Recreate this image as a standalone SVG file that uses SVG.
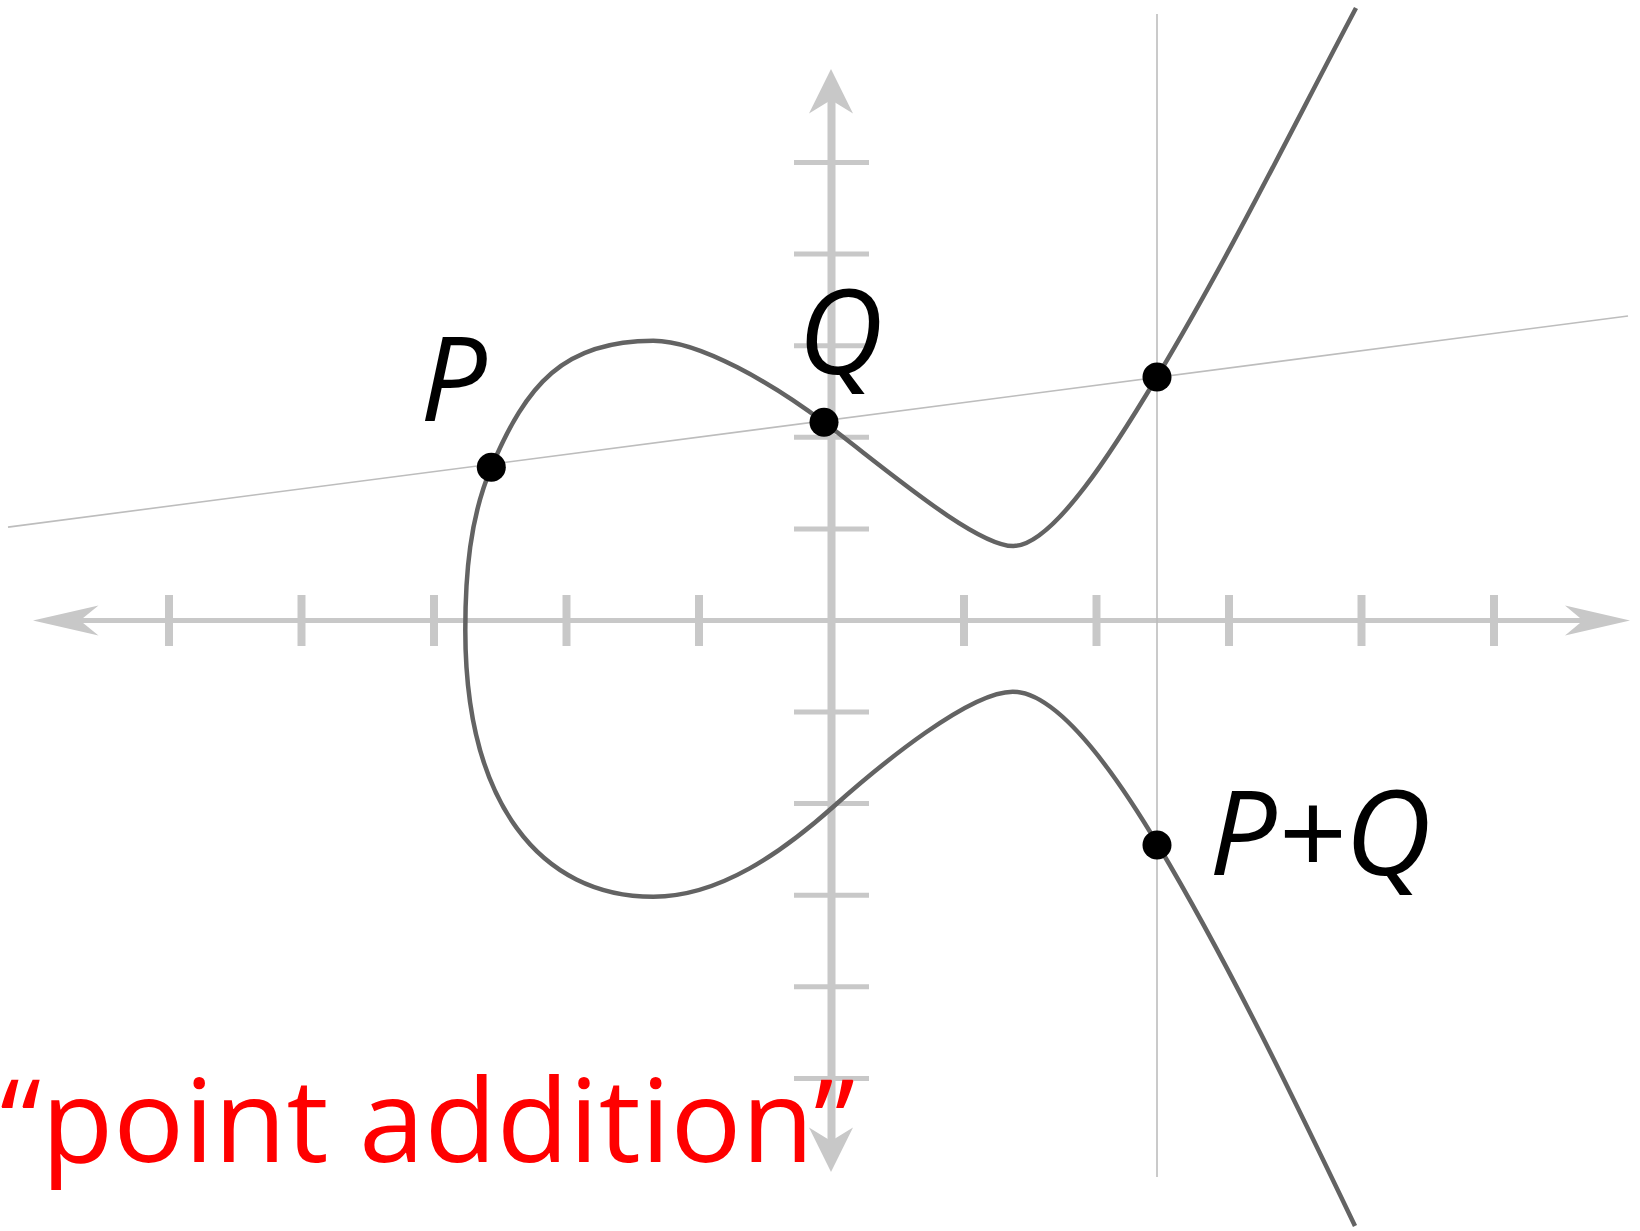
<svg xmlns="http://www.w3.org/2000/svg" width="1640" height="1231" viewBox="0 0 1640 1231">
<style>
.ax{stroke:#c8c8c8;fill:none}
.axh{stroke-width:5}
.axv{stroke-width:8}
.arr{fill:#c8c8c8;stroke:none}
.thin{stroke:#bdbdbd;stroke-width:1.6;fill:none}
.curve{stroke:#636363;stroke-width:4.5;fill:none}
.dot{fill:#000}
.lbl{font-family:"Open Sans","Noto Sans","Liberation Sans",sans-serif;font-style:italic;font-size:118px;fill:#000}
.red{font-family:"Open Sans","Noto Sans","Liberation Sans",sans-serif;font-size:116px;fill:#ff0000}
</style>
<rect width="1640" height="1231" fill="#fff"/>
<g id="axes">
  <line class="ax axh" x1="80" y1="620.5" x2="1584" y2="620.5"/>
  <line class="ax axv" x1="831.5" y1="99" x2="831.5" y2="1142"/>
  <g class="ax axv">
    <line x1="169" y1="595" x2="169" y2="646"/>
    <line x1="301.5" y1="595" x2="301.5" y2="646"/>
    <line x1="434" y1="595" x2="434" y2="646"/>
    <line x1="566.5" y1="595" x2="566.5" y2="646"/>
    <line x1="699" y1="595" x2="699" y2="646"/>
    <line x1="964" y1="595" x2="964" y2="646"/>
    <line x1="1096.5" y1="595" x2="1096.5" y2="646"/>
    <line x1="1229" y1="595" x2="1229" y2="646"/>
    <line x1="1361.5" y1="595" x2="1361.5" y2="646"/>
    <line x1="1494" y1="595" x2="1494" y2="646"/>
  </g>
  <g class="ax axh">
    <line x1="794" y1="162.5" x2="869" y2="162.5"/>
    <line x1="794" y1="254" x2="869" y2="254"/>
    <line x1="794" y1="345.7" x2="869" y2="345.7"/>
    <line x1="794" y1="437.3" x2="869" y2="437.3"/>
    <line x1="794" y1="529" x2="869" y2="529"/>
    <line x1="794" y1="712" x2="869" y2="712"/>
    <line x1="794" y1="803.6" x2="869" y2="803.6"/>
    <line x1="794" y1="895.2" x2="869" y2="895.2"/>
    <line x1="794" y1="986.8" x2="869" y2="986.8"/>
    <line x1="794" y1="1078.4" x2="869" y2="1078.4"/>
  </g>
  <polygon class="arr" points="33,620.5 98.5,605.5 80,620.5 98.5,635.5"/>
  <polygon class="arr" points="1630,620.5 1565,605.5 1583,620.5 1565,635.5"/>
  <polygon class="arr" points="831,69 809,113.5 831,100 853,113.5"/>
  <polygon class="arr" points="831,1172 809,1127.5 831,1141 853,1127.5"/>
</g>
<g id="guides">
  <line class="thin" x1="1157" y1="14" x2="1157" y2="1177"/>
  <line class="thin" x1="8" y1="527.1" x2="1628" y2="316"/>
</g>
<g id="curve">
  <path class="curve" d="M1356,8 C1290.5,131.8 1229,257 1157,377 C1115.9,445.6 1053.3,546 1013.3,546 C975,546 884,467.3 824,422.3 C773.6,384.5 700,340.7 653.3,340.7 C563.3,340.7 526.6,384.5 491.3,467.3 C469.7,517.9 465.3,575 465.3,630 C465.3,803.4 540.5,896.7 653.3,896.7 C720.3,896.7 783.3,851.2 833.3,806.7 C883.3,762.2 970,691.7 1012.7,691.7 C1060,691.7 1119.6,780.6 1158,845 C1229.7,965.3 1294.4,1099.9 1355,1226"/>
</g>
<g id="point-P">
  <circle class="dot" cx="491.3" cy="467.3" r="14.5"/>
  <text class="lbl" x="420" y="420.7">P</text>
</g>
<g id="point-Q">
  <circle class="dot" cx="824" cy="422.3" r="14.5"/>
  <text class="lbl" x="798" y="374">Q</text>
</g>
<g id="point-R">
  <circle class="dot" cx="1157" cy="377" r="14.5"/>
</g>
<g id="point-PQ">
  <circle class="dot" cx="1157" cy="845" r="14.5"/>
  <text class="lbl" x="1209" y="875" textLength="222" lengthAdjust="spacingAndGlyphs">P+Q</text>
</g>
<g id="caption">
  <text class="red" x="0" y="1162" textLength="855" lengthAdjust="spacingAndGlyphs">“point addition”</text>
</g>
</svg>
